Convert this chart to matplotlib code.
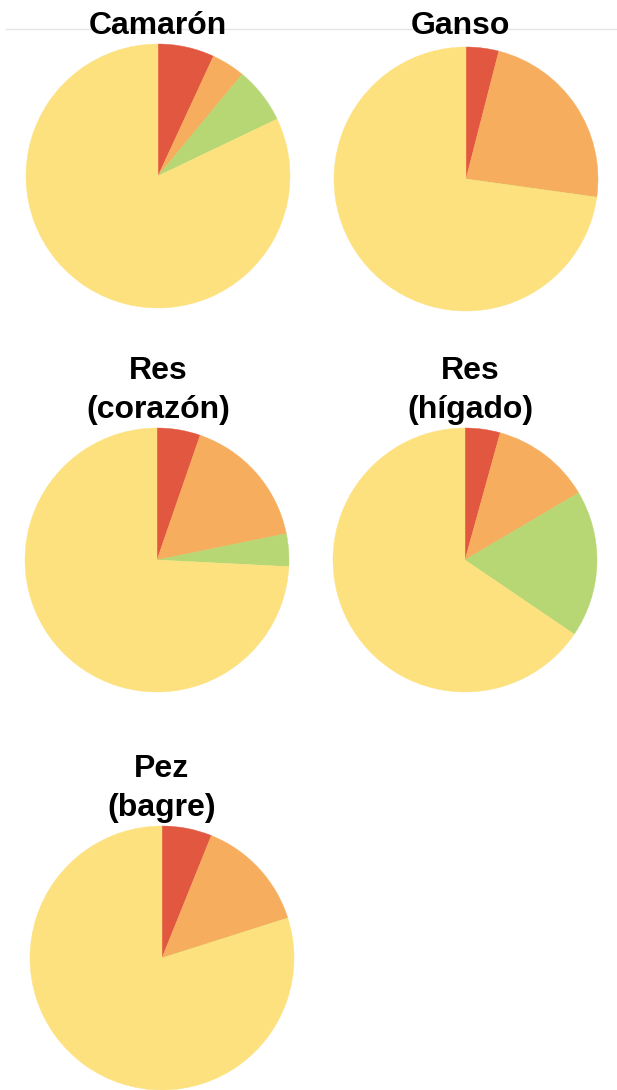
import matplotlib
matplotlib.use("Agg")
import matplotlib.pyplot as plt
from matplotlib.lines import Line2D

plt.rcParams['font.family'] = ['Liberation Sans', 'DejaVu Sans']

# share of each class per food, clockwise from 12 o'clock
titles = ["Camarón", "Ganso", "Res\n(corazón)", "Res\n(hígado)", "Pez\n(bagre)"]
red = [6.9, 4.0, 5.3, 4.3, 6.1]
orange = [4.1, 23.2, 16.5, 12.2, 14.0]
green = [6.9, 0.0, 4.0, 18.0, 0.0]
yellow = [82.1, 72.8, 74.2, 65.5, 79.9]

colors = ["#E2573F", "#F7AD5E", "#B6D773", "#FDE17F"]

W, H = 617, 1090
fig = plt.figure(figsize=(W / 100, H / 100), dpi=100)

# faint rule across the top
fig.add_artist(Line2D([6 / W, 1], [1 - 29 / H, 1 - 29 / H], color="#e4e4e4", lw=1, zorder=0))

# pie centres / title placement in pixels
centers = [(158, 176), (466, 179), (157, 560), (465, 560), (162, 958)]
title_x = [158, 460, 158, 470, 162]
title_base = [34, 34, 379, 379, 777]
R = 132

for i, name in enumerate(titles):
    cx, cy = centers[i]
    ax = fig.add_axes([(cx - R) / W, 1 - (cy + R) / H, 2 * R / W, 2 * R / H])
    vals = [red[i], orange[i], green[i], yellow[i]]
    ax.pie(vals, colors=colors, startangle=90, counterclock=False, radius=1,
           wedgeprops=dict(linewidth=0.3))
    for w, c in zip(ax.patches, colors):
        w.set_edgecolor(c)
    ax.set_xlim(-1, 1)
    ax.set_ylim(-1, 1)
    ax.set_aspect("equal")
    ax.axis("off")

    for k, line in enumerate(name.split("\n")):
        fig.text(title_x[i] / W, 1 - (title_base[i] + 39 * k) / H, line,
                 ha="center", va="baseline", fontsize=23, fontweight="bold", color="black")

fig.savefig("out.png", dpi=100, facecolor="white")
